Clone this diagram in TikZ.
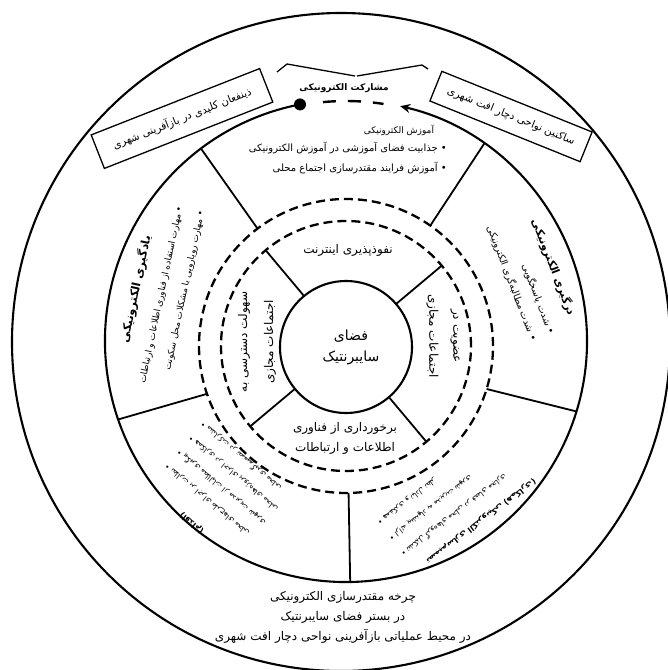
\documentclass[tikz,border=0pt]{standalone}
\usepackage{fontspec}
\newfontfamily\farsi[Script=Arabic]{DejaVu Sans}
\TeXXeTstate=1
\usetikzlibrary{arrows.meta}
\newcommand{\rtl}[1]{\beginR #1\endR}

\begin{document}
\begin{tikzpicture}[x=1pt, y=1pt,
    ring/.style={line width=2.1pt},
    spoke/.style={line width=1.8pt},
    dashring/.style={line width=2.3pt, dash pattern=on 9pt off 5pt},
    txt/.style={font=\farsi\fontsize{12}{20}\selectfont, align=center, inner sep=0pt},
    boxlabel/.style={draw, line width=1.3pt, font=\farsi\fontsize{10.5}{12}\selectfont, inner sep=0pt}]
    \useasboundingbox (-346,-329) rectangle (322,341);

    % Circulos
    \draw[ring] (-5,-1) circle[radius=329];
    \draw[ring, -{Stealth[length=10pt,width=9pt]}] (101:241) arc[start angle=101, end angle=437, radius=241];
    \fill (101:241) circle[radius=6];
    \draw[line width=2.4pt, dash pattern=on 13pt off 12pt] (95.5:240) arc[start angle=95.5, end angle=81, radius=240];
    \draw[dashring] (0,-5) circle[radius=147];
    \draw[dashring] (0,-5) circle[radius=125];
    \draw[ring] (0,-6) circle[radius=66];

    % Radios
    \foreach \a in {55,127,199,271,343}
        \draw[spoke] ([shift={(\a:147)}]0,-5) -- (\a:241);
    \foreach \a in {40,130,220,310}
        \draw[spoke] ([shift={(\a:66)}]0,-5) -- ([shift={(\a:125)}]0,-5);

    % Llave superior
    \draw[line width=1.3pt] (-69,269) -- (-59,277) -- (9,265);
    \draw[line width=1.3pt] (11,265) -- (76,276) -- (82,272);

    % Etiquetas superiores
    \node[txt, font=\farsi\bfseries\fontsize{9}{10}\selectfont] (mosharekat) at (-2,253) {\rtl{مشارکت الکترونیکی}};
    \node[boxlabel, rotate=21.5, minimum width=181pt, minimum height=36pt] (zinafan) at (-164,222.5) {\rtl{ذینفعان کلیدی در بازآفرینی شهری}};
    \node[boxlabel, rotate=-22, minimum width=162pt, minimum height=32pt] (sakenin) at (165,224.5) {\rtl{ساکنین نواحی دچار افت شهری}};

    % Sector superior
    \node[txt, font=\farsi\fontsize{9}{10}\selectfont] (amuzesh) at (53,211) {\rtl{آموزش الکترونیکی}};
    \node[txt, align=right, anchor=east, font=\farsi\fontsize{10}{20}\selectfont] (amuzeshlist) at (101,183) {\rtl{• جذابیت فضای آموزشی در آموزش الکترونیکی}\\\rtl{• آموزش فرایند مقتدرسازی اجتماع محلی}};

    % Sector derecho
    \node[txt, rotate=-69, font=\farsi\fontsize{9.5}{19}\selectfont] (dargiri) at (187,66) {\begin{tabular}{@{}r@{}}\multicolumn{1}{@{}c@{}}{\bfseries\fontsize{11}{13}\selectfont\rtl{درگیری الکترونیکی}}\\[6pt]\rtl{• شدت پاسخگویی}\\\rtl{• شدت مطالبه‌گری الکترونیکی}\end{tabular}};

    % Sector izquierdo
    \node[txt, rotate=78, font=\farsi\fontsize{9}{22}\selectfont] (yadgiri) at (-188,47) {\begin{tabular}{@{}r@{}}\multicolumn{1}{@{}c@{}}{\bfseries\fontsize{11.5}{13}\selectfont\rtl{یادگیری الکترونیکی}}\\[3pt]\rtl{• مهارت استفاده از فناوری اطلاعات و ارتباطات}\\\rtl{• مهارت رویارویی با مشکلات محل سکونت}\end{tabular}};

    % Sector inferior izquierdo
    \node[txt, rotate=140, anchor=east, align=right, font=\farsi\fontsize{7.5}{18.5}\selectfont] (eqdamlist) at (-162,-103) {\rtl{• نظارت بر اجرای طرح‌های محلی}\\\rtl{• پیگیری مطالبات از مدیریت شهری}\\\rtl{• همکاری در اجرای پروژه‌های محلی}\\\rtl{• مشارکت در تصمیم‌گیری محلی}};
    \node[txt, rotate=140, font=\farsi\bfseries\fontsize{8}{9}\selectfont] (eqdam) at (-154,-182) {\rtl{(اقدام)}};

    % Sector inferior derecho
    \node[txt, rotate=-143, anchor=east, align=right, font=\farsi\fontsize{7.5}{19.5}\selectfont] (tasmimlist) at (44,-198) {\rtl{• تشکیل گروه‌های محلی در فضای مجازی}\\\rtl{• ارائه پیشنهاد به مدیریت شهری}\\\rtl{• همفکری و تبادل نظر}};
    \node[txt, rotate=-143, font=\farsi\bfseries\fontsize{8}{10}\selectfont] (tasmim) at (135,-180) {\rtl{تصمیم‌سازی الکترونیکی (همکاری)}};

    % Sector interior
    \node[txt] (nofuz) at (2,91) {\rtl{نفوذپذیری اینترنت}};
    \node[txt, rotate=-90, font=\farsi\fontsize{12}{24}\selectfont] (ozviat) at (97,5) {\rtl{عضویت در}\\\rtl{اجتماعات مجازی}};
    \node[txt, rotate=90, font=\farsi\fontsize{12}{26}\selectfont] (sohulat) at (-89,-1) {\rtl{سهولت دسترسی به}\\\rtl{اجتماعات مجازی}};
    \node[txt] (barkhordari) at (-1,-97) {\rtl{برخورداری از فناوری}\\\rtl{اطلاعات و ارتباطات}};
    \node[txt, font=\farsi\fontsize{14}{21}\selectfont] (faza) at (5,-6) {\rtl{فضای}\\\rtl{سایبرنتیک}};

    % Texto inferior
    \node[txt] (charkhe) at (-3,-276) {\rtl{چرخه مقتدرسازی الکترونیکی}\\\rtl{در بستر فضای سایبرنتیک}\\\rtl{در محیط عملیاتی بازآفرینی نواحی دچار افت شهری}};
\end{tikzpicture}
\end{document}
